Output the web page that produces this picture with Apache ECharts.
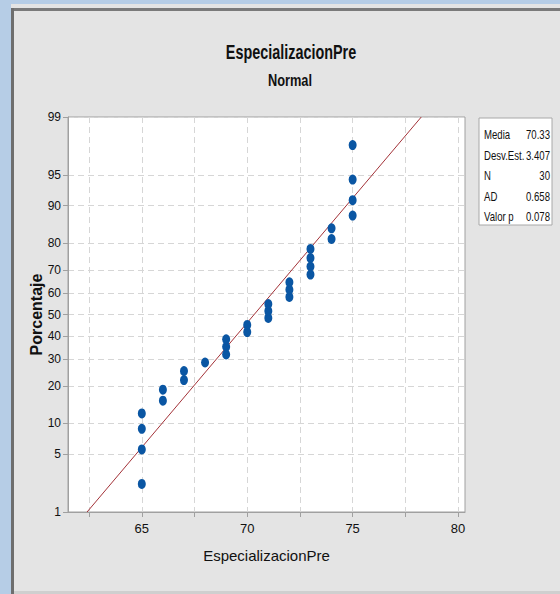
<!DOCTYPE html>
<html>
<head>
<meta charset="utf-8">
<script src="https://cdn.jsdelivr.net/npm/echarts@6/dist/echarts.min.js"></script>
<style>
html,body{margin:0;padding:0;background:#e4e4e4;}
#main{width:560px;height:594px;}
</style>
</head>
<body>
<div id="main"></div>
<script>
// Data values (sorted)
var values = [65,65,65,65,66,66,67,67,68,69,69,69,70,70,71,71,71,72,72,72,73,73,73,73,74,74,75,75,75,75];
// Plotted cumulative percentages (median ranks) for each point
var percents = [2.3,5.6,8.9,12.2,15.5,18.8,22.0,25.3,28.6,31.9,35.2,38.5,41.8,45.1,48.4,51.6,54.9,58.2,61.5,64.8,68.1,71.4,74.7,78.0,81.3,84.5,87.8,91.1,94.4,97.7];
// Y tick labels (percent)
var yTicks = [1,5,10,20,30,40,50,60,70,80,90,95,99];
// X ticks
var xTicks = [62.5,65,67.5,70,72.5,75,77.5,80];
var xLabels = [65,70,75,80];
// Summary statistics
var statNames = ['Media','Desv.Est.','N','AD','Valor p'];
var statValues = ['70.33','3.407','30','0.658','0.078'];
var mean = 70.33, sd = 3.407;
var titleText = 'EspecializacionPre';
var subtitleText = 'Normal';

// inverse standard normal CDF (Acklam)
function qnorm(p){
  var a=[-3.969683028665376e+01,2.209460984245205e+02,-2.759285104469687e+02,1.383577518672690e+02,-3.066479806614716e+01,2.506628277459239e+00];
  var b=[-5.447609879822406e+01,1.615858368580409e+02,-1.556989798598866e+02,6.680131188771972e+01,-1.328068155288572e+01];
  var c=[-7.784894002430293e-03,-3.223964580411365e-01,-2.400758277161838e+00,-2.549732539343734e+00,4.374664141464968e+00,2.938163982698783e+00];
  var d=[7.784695709041462e-03,3.224671290700398e-01,2.445134137142996e+00,3.754408661907416e+00];
  var pl=0.02425, q, r;
  if(p<pl){q=Math.sqrt(-2*Math.log(p));return (((((c[0]*q+c[1])*q+c[2])*q+c[3])*q+c[4])*q+c[5])/((((d[0]*q+d[1])*q+d[2])*q+d[3])*q+1);}
  if(p>1-pl){q=Math.sqrt(-2*Math.log(1-p));return -(((((c[0]*q+c[1])*q+c[2])*q+c[3])*q+c[4])*q+c[5])/((((d[0]*q+d[1])*q+d[2])*q+d[3])*q+1);}
  q=p-0.5;r=q*q;
  return (((((a[0]*r+a[1])*r+a[2])*r+a[3])*r+a[4])*r+a[5])*q/(((((b[0]*r+b[1])*r+b[2])*r+b[3])*r+b[4])*r+1);
}

var yMin = qnorm(0.01), yMax = qnorm(0.99);
var yTickZ = yTicks.map(function(t){return qnorm(t/100);});
function labelFor(v){
  var best=0, bd=1e9;
  for(var i=0;i<yTickZ.length;i++){var dd=Math.abs(yTickZ[i]-v); if(dd<bd){bd=dd;best=i;}}
  return String(yTicks[best]);
}
var pts = values.map(function(v,i){return [v, qnorm(percents[i]/100)];});
var fitLine = [[mean+sd*yMin, yMin],[mean+sd*yMax, yMax]];

var font = "'Liberation Sans',Arial,sans-serif";

var statGraphics = [{
  type:'rect', shape:{x:479,y:118,width:73,height:107},
  style:{fill:'#ffffff',stroke:'#a8a8a8',lineWidth:1}
}];
statNames.forEach(function(n,i){
  statGraphics.push({type:'text',x:484,y:135+i*20.5,scaleX:0.8,style:{text:n,fill:'#111111',font:'12px '+font,verticalAlign:'middle',align:'left'}});
  statGraphics.push({type:'text',x:550,y:135+i*20.5,scaleX:0.8,style:{text:statValues[i],fill:'#111111',font:'12px '+font,verticalAlign:'middle',align:'right'}});
});
var titleGraphics = [
  {type:'text',x:291,y:52,scaleX:0.72,style:{text:titleText,fill:'#111111',font:'bold 20px '+font,align:'center',verticalAlign:'middle'}},
  {type:'text',x:290,y:80,scaleX:0.8,style:{text:subtitleText,fill:'#111111',font:'bold 16px '+font,align:'center',verticalAlign:'middle'}}
];
// window frame
var frame = [
  {type:'rect',shape:{x:0,y:0,width:560,height:4},style:{fill:'#b6cde6'}},
  {type:'rect',shape:{x:0,y:0,width:11,height:594},style:{fill:'#b6cde6'}},
  {type:'rect',shape:{x:11,y:8,width:549,height:3},style:{fill:'#7a7a7a'}},
  {type:'rect',shape:{x:11,y:8,width:3,height:586},style:{fill:'#6e6e6e'}},
  {type:'rect',shape:{x:14,y:591,width:546,height:3},style:{fill:'#cfcfcf'}}
];

var chart = echarts.init(document.getElementById('main'), null, {renderer:'svg'});
chart.setOption({
  backgroundColor:'#e4e4e4',
  animation:false,
  grid:{left:68,top:117,right:95,bottom:82,show:true,backgroundColor:'#ffffff',borderColor:'#a0a0a0',borderWidth:1},
  xAxis:{
    type:'value',min:61.5,max:80.33,
    name:'EspecializacionPre',nameLocation:'middle',nameGap:36,nameMoveOverlap:false,
    nameTextStyle:{fontFamily:font,fontSize:15,color:'#111111'},
    axisLine:{show:true,onZero:false,lineStyle:{color:'#a0a0a0'}},
    axisTick:{show:true,customValues:xTicks,length:5,lineStyle:{color:'#a0a0a0'}},
    axisLabel:{customValues:xLabels,fontFamily:font,fontSize:13,color:'#111111',margin:10},
    splitLine:{show:true,lineStyle:{color:'#d6d6d6',type:[6,4],width:1}}
  },
  yAxis:{
    type:'value',min:yMin,max:yMax,
    name:'Porcentaje',nameLocation:'middle',nameGap:24,nameMoveOverlap:false,
    nameTextStyle:{fontFamily:font,fontSize:16,fontWeight:'bold',color:'#111111'},
    axisLine:{show:true,onZero:false,lineStyle:{color:'#a0a0a0'}},
    axisTick:{show:true,customValues:yTickZ,length:5,lineStyle:{color:'#a0a0a0'}},
    axisLabel:{customValues:yTickZ,formatter:function(v){return labelFor(v);},fontFamily:font,fontSize:12,color:'#111111',margin:7},
    splitLine:{show:true,lineStyle:{color:'#d6d6d6',type:[6,4],width:1}}
  },
  graphic:frame.concat(titleGraphics).concat(statGraphics),
  series:[
    {type:'line',data:fitLine,symbol:'none',lineStyle:{color:'#a33238',width:1},silent:true,z:2},
    {type:'scatter',data:pts,symbol:'circle',symbolSize:[8,10],itemStyle:{color:'#0a56a3',opacity:1},z:3}
  ]
});
</script>
</body>
</html>
